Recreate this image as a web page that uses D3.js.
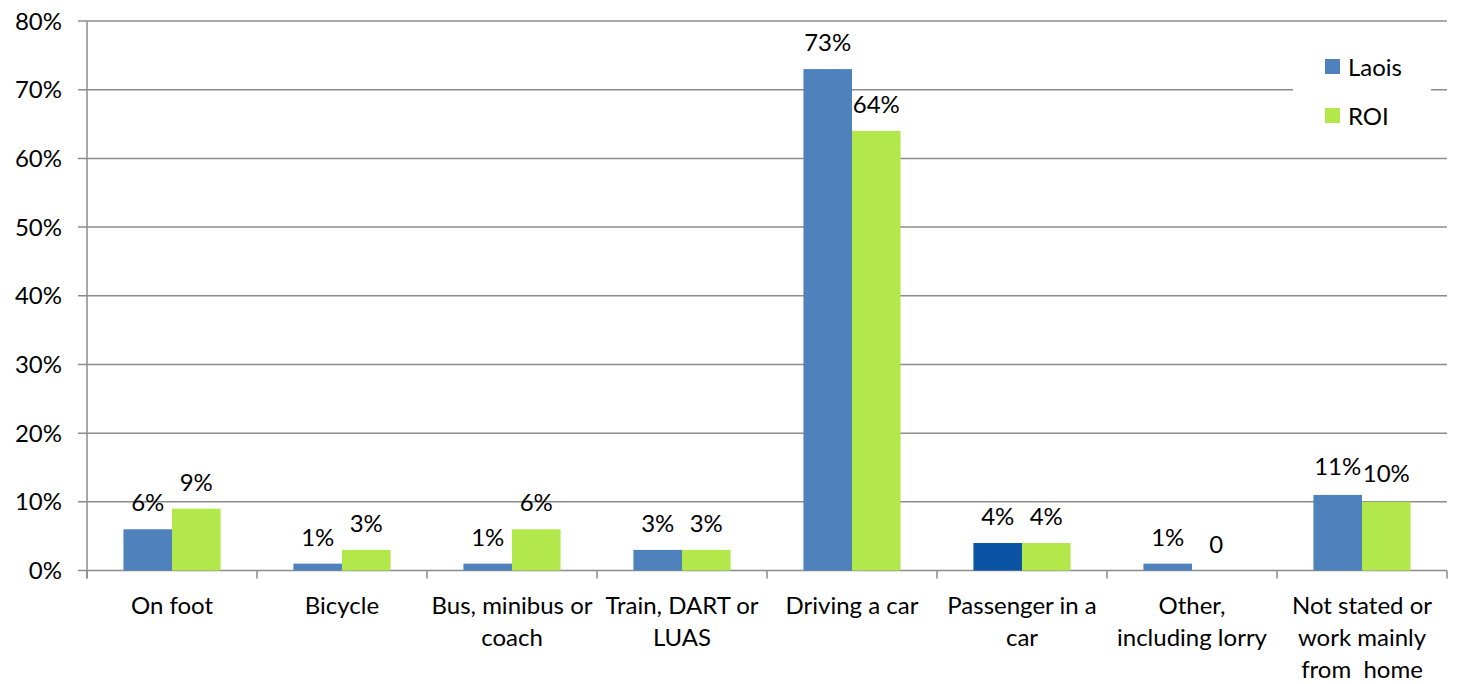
<!DOCTYPE html>
<html><head><meta charset="utf-8">
<script src="https://cdn.jsdelivr.net/npm/d3@7"></script>
<style>body{margin:0;background:#fff}svg{display:block}text{font-family:Lato,"Open Sans",sans-serif;fill:#000}</style>
</head><body><svg id="c" width="1459" height="684"></svg>
<script>
const categories = [["On foot"],["Bicycle"],["Bus, minibus or","coach"],["Train, DART or","LUAS"],["Driving a car"],["Passenger in a","car"],["Other,","including lorry"],["Not stated or","work mainly","from  home"]];
const seriesNames = ["Laois","ROI"];
const laois = [6,1,1,3,73,4,1,11];
const roi = [9,3,6,3,64,4,0,10];
const laoisLabels = ["6%","1%","1%","3%","73%","4%","1%","11%"];
const roiLabels = ["9%","3%","6%","3%","64%","4%","0","10%"];
const yTicks = [0,10,20,30,40,50,60,70,80];
const colors = {Laois:"#4f81bd", ROI:"#b3e84b"};
const highlight = {series:"Laois", index:5, color:"#0b53a4"};

const svg = d3.select("#c");
const pL=87, pR=1447, pT=21, pB=570.5;
const FS=24;
const ids = categories.map((d,i)=>i);
const x0 = d3.scaleBand().domain(ids).range([pL,pR]).padding(0);
const x1 = d3.scaleBand().domain(seriesNames).range([0,x0.bandwidth()]).paddingInner(0).paddingOuter(0.75);
const y = d3.scaleLinear().domain([0,80]).range([pB,pT]);
const gridColor="#8c8c8c";

svg.append("g").selectAll("line").data(yTicks).join("line")
  .attr("x1",pL-9).attr("x2",pR).attr("y1",d=>y(d)).attr("y2",d=>y(d))
  .attr("stroke",gridColor).attr("stroke-width",1.5);
svg.append("g").selectAll("text").data(yTicks).join("text")
  .attr("x",62).attr("y",d=>y(d)+8.5).attr("text-anchor","end").attr("font-size",FS).text(d=>d+"%");
svg.append("line").attr("x1",pL).attr("x2",pL).attr("y1",pT).attr("y2",pB+8).attr("stroke",gridColor).attr("stroke-width",1.5);
svg.append("g").selectAll("line").data(d3.range(categories.length+1)).join("line")
  .attr("x1",i=>pL+i*x0.step()).attr("x2",i=>pL+i*x0.step()).attr("y1",pB).attr("y2",pB+8)
  .attr("stroke",gridColor).attr("stroke-width",1.5);

const rows = [];
ids.forEach(i=>{
  rows.push({s:"Laois",i,v:laois[i],lab:laoisLabels[i]});
  rows.push({s:"ROI",i,v:roi[i],lab:roiLabels[i]});
});
svg.append("g").selectAll("rect").data(rows.filter(r=>r.v>0)).join("rect")
  .attr("x",r=>x0(r.i)+x1(r.s)).attr("width",x1.bandwidth())
  .attr("y",r=>y(r.v)).attr("height",r=>y(0)-y(r.v))
  .attr("fill",r=>(r.s===highlight.series&&r.i===highlight.index)?highlight.color:colors[r.s]);
svg.append("g").selectAll("text").data(rows).join("text")
  .attr("x",r=>x0(r.i)+x1(r.s)+x1.bandwidth()/2)
  .attr("y",r=>y(r.v)-(r.i===7?20:18))
  .attr("text-anchor","middle").attr("font-size",FS).text(r=>r.lab);
const cg = svg.append("g").selectAll("text").data(ids).join("text")
  .attr("x",i=>x0(i)+x0.bandwidth()/2).attr("y",614).attr("text-anchor","middle").attr("font-size",FS);
cg.selectAll("tspan").data(i=>categories[i].map(t=>({t,x:x0(i)+x0.bandwidth()/2}))).join("tspan")
  .attr("x",d=>d.x).attr("dy",(d,k)=>k===0?0:32).attr("xml:space","preserve").text(d=>d.t);

const lg = svg.append("g");
lg.append("rect").attr("x",1293).attr("y",40).attr("width",138).attr("height",100).attr("fill","#fff");
seriesNames.forEach((s,k)=>{
  lg.append("rect").attr("x",1325).attr("y",59+k*49).attr("width",15).attr("height",15).attr("fill",colors[s]);
  lg.append("text").attr("x",1348).attr("y",75.5+k*49).attr("font-size",FS).text(s);
});
</script></body></html>
